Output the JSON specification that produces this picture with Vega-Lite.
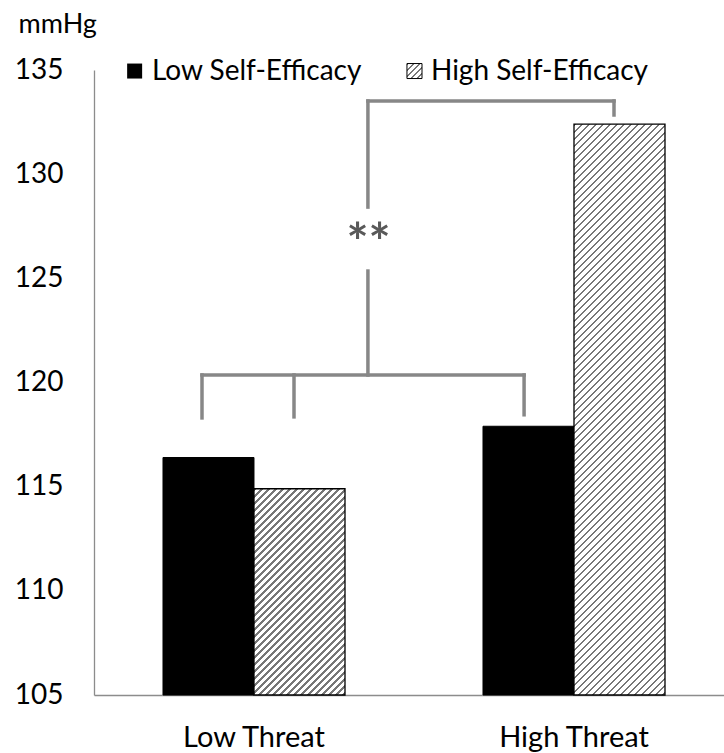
{
"$schema":"https://vega.github.io/schema/vega-lite/v6.json",
"width":630,"height":625,
"autosize":{"type":"none"},
"padding":{"left":94,"top":70,"right":0,"bottom":58},
"background":"white",
"config":{"view":{"stroke":null},"font":"Lato","text":{"font":"Lato"}},
"datasets":{
"bars":[
{"threat":"Low Threat","se":"Low Self-Efficacy","value":116.4},
{"threat":"Low Threat","se":"High Self-Efficacy","value":114.9},
{"threat":"High Threat","se":"Low Self-Efficacy","value":117.9},
{"threat":"High Threat","se":"High Self-Efficacy","value":132.4}
],
"segments":[
{"xa":0.3375,"xb":1.344,"ya":120.36,"yb":120.36},
{"xa":0.3375,"xb":0.3375,"ya":120.36,"yb":118.3},
{"xa":0.625,"xb":0.625,"ya":120.36,"yb":118.35},
{"xa":1.344,"xb":1.344,"ya":120.36,"yb":118.45},
{"xa":0.856,"xb":0.856,"ya":120.36,"yb":125.35},
{"xa":0.856,"xb":0.856,"ya":128.42,"yb":133.51},
{"xa":0.856,"xb":1.625,"ya":133.51,"yb":133.51},
{"xa":1.625,"xb":1.625,"ya":133.51,"yb":132.84}
]
},
"resolve":{"scale":{"x":"independent"},"axis":{"x":"independent","y":"independent"}},
"layer":[
{"layer":[
{"data":{"name":"bars"},"transform":[{"filter":"datum.se === 'Low Self-Efficacy'"}],
"mark":{"type":"bar","fill":"#000","stroke":"#000","strokeWidth":1},
"encoding":{
"x":{"field":"threat","type":"nominal","scale":{"domain":["Low Threat","High Threat"],"paddingInner":0.43125,"paddingOuter":0.2,"align":0.539},
"axis":{"title":null,"labelAngle":0,"labelFontSize":29,"labelColor":"#000","labelPadding":28,"ticks":false,"tickSize":0,"domainColor":"#8c8c8c","domainWidth":1.3}},
"xOffset":{"field":"se","type":"nominal","scale":{"domain":["Low Self-Efficacy","High Self-Efficacy"],"paddingInner":0,"paddingOuter":0}},
"y":{"field":"value","type":"quantitative","scale":{"domain":[105,135],"nice":false,"zero":false},
"axis":{"values":[105,110,115,120,125,130,135],"grid":false,"ticks":false,"tickSize":0,"labelFontSize":28,"labelColor":"#000","labelPadding":31,"labelFlush":false,"labelOverlap":false,"domainColor":"#8c8c8c","domainWidth":1.3,
"title":"mmHg","titleAngle":0,"titleAlign":"left","titleBaseline":"alphabetic","titleX":-76,"titleY":-38,"titleFontSize":27,"titleFontWeight":"normal","titleColor":"#000","titleFont":"Lato"}},
"y2":{"datum":105}
}},
{"data":{"name":"bars"},"transform":[{"filter":"datum.se === 'High Self-Efficacy' && datum.threat === 'Low Threat'"}],
"mark":{"type":"bar","stroke":"#000","strokeWidth":1.3,"fill":{"gradient":"linear","x1":0,"y1":0,"x2":0.62672,"y2":1.42045,"stops":[
{"offset":0,"color":"#777"},{"offset":0.008,"color":"#777"},{"offset":0.008,"color":"#fff"},{"offset":0.02,"color":"#fff"},
{"offset":0.02,"color":"#777"},{"offset":0.028,"color":"#777"},{"offset":0.028,"color":"#fff"},{"offset":0.04,"color":"#fff"},
{"offset":0.04,"color":"#777"},{"offset":0.048,"color":"#777"},{"offset":0.048,"color":"#fff"},{"offset":0.06,"color":"#fff"},
{"offset":0.06,"color":"#777"},{"offset":0.068,"color":"#777"},{"offset":0.068,"color":"#fff"},{"offset":0.08,"color":"#fff"},
{"offset":0.08,"color":"#777"},{"offset":0.088,"color":"#777"},{"offset":0.088,"color":"#fff"},{"offset":0.10,"color":"#fff"},
{"offset":0.10,"color":"#777"},{"offset":0.108,"color":"#777"},{"offset":0.108,"color":"#fff"},{"offset":0.12,"color":"#fff"},
{"offset":0.12,"color":"#777"},{"offset":0.128,"color":"#777"},{"offset":0.128,"color":"#fff"},{"offset":0.14,"color":"#fff"},
{"offset":0.14,"color":"#777"},{"offset":0.148,"color":"#777"},{"offset":0.148,"color":"#fff"},{"offset":0.16,"color":"#fff"},
{"offset":0.16,"color":"#777"},{"offset":0.168,"color":"#777"},{"offset":0.168,"color":"#fff"},{"offset":0.18,"color":"#fff"},
{"offset":0.18,"color":"#777"},{"offset":0.188,"color":"#777"},{"offset":0.188,"color":"#fff"},{"offset":0.20,"color":"#fff"},
{"offset":0.20,"color":"#777"},{"offset":0.208,"color":"#777"},{"offset":0.208,"color":"#fff"},{"offset":0.22,"color":"#fff"},
{"offset":0.22,"color":"#777"},{"offset":0.228,"color":"#777"},{"offset":0.228,"color":"#fff"},{"offset":0.24,"color":"#fff"},
{"offset":0.24,"color":"#777"},{"offset":0.248,"color":"#777"},{"offset":0.248,"color":"#fff"},{"offset":0.26,"color":"#fff"},
{"offset":0.26,"color":"#777"},{"offset":0.268,"color":"#777"},{"offset":0.268,"color":"#fff"},{"offset":0.28,"color":"#fff"},
{"offset":0.28,"color":"#777"},{"offset":0.288,"color":"#777"},{"offset":0.288,"color":"#fff"},{"offset":0.30,"color":"#fff"},
{"offset":0.30,"color":"#777"},{"offset":0.308,"color":"#777"},{"offset":0.308,"color":"#fff"},{"offset":0.32,"color":"#fff"},
{"offset":0.32,"color":"#777"},{"offset":0.328,"color":"#777"},{"offset":0.328,"color":"#fff"},{"offset":0.34,"color":"#fff"},
{"offset":0.34,"color":"#777"},{"offset":0.348,"color":"#777"},{"offset":0.348,"color":"#fff"},{"offset":0.36,"color":"#fff"},
{"offset":0.36,"color":"#777"},{"offset":0.368,"color":"#777"},{"offset":0.368,"color":"#fff"},{"offset":0.38,"color":"#fff"},
{"offset":0.38,"color":"#777"},{"offset":0.388,"color":"#777"},{"offset":0.388,"color":"#fff"},{"offset":0.40,"color":"#fff"},
{"offset":0.40,"color":"#777"},{"offset":0.408,"color":"#777"},{"offset":0.408,"color":"#fff"},{"offset":0.42,"color":"#fff"},
{"offset":0.42,"color":"#777"},{"offset":0.428,"color":"#777"},{"offset":0.428,"color":"#fff"},{"offset":0.44,"color":"#fff"},
{"offset":0.44,"color":"#777"},{"offset":0.448,"color":"#777"},{"offset":0.448,"color":"#fff"},{"offset":0.46,"color":"#fff"},
{"offset":0.46,"color":"#777"},{"offset":0.468,"color":"#777"},{"offset":0.468,"color":"#fff"},{"offset":0.48,"color":"#fff"},
{"offset":0.48,"color":"#777"},{"offset":0.488,"color":"#777"},{"offset":0.488,"color":"#fff"},{"offset":0.50,"color":"#fff"},
{"offset":0.50,"color":"#777"},{"offset":0.508,"color":"#777"},{"offset":0.508,"color":"#fff"},{"offset":0.52,"color":"#fff"},
{"offset":0.52,"color":"#777"},{"offset":0.528,"color":"#777"},{"offset":0.528,"color":"#fff"},{"offset":0.54,"color":"#fff"},
{"offset":0.54,"color":"#777"},{"offset":0.548,"color":"#777"},{"offset":0.548,"color":"#fff"},{"offset":0.56,"color":"#fff"},
{"offset":0.56,"color":"#777"},{"offset":0.568,"color":"#777"},{"offset":0.568,"color":"#fff"},{"offset":0.58,"color":"#fff"},
{"offset":0.58,"color":"#777"},{"offset":0.588,"color":"#777"},{"offset":0.588,"color":"#fff"},{"offset":0.60,"color":"#fff"},
{"offset":0.60,"color":"#777"},{"offset":0.608,"color":"#777"},{"offset":0.608,"color":"#fff"},{"offset":0.62,"color":"#fff"},
{"offset":0.62,"color":"#777"},{"offset":0.628,"color":"#777"},{"offset":0.628,"color":"#fff"},{"offset":0.64,"color":"#fff"},
{"offset":0.64,"color":"#777"},{"offset":0.648,"color":"#777"},{"offset":0.648,"color":"#fff"},{"offset":0.66,"color":"#fff"},
{"offset":0.66,"color":"#777"},{"offset":0.668,"color":"#777"},{"offset":0.668,"color":"#fff"},{"offset":0.68,"color":"#fff"},
{"offset":0.68,"color":"#777"},{"offset":0.688,"color":"#777"},{"offset":0.688,"color":"#fff"},{"offset":0.70,"color":"#fff"},
{"offset":0.70,"color":"#777"},{"offset":0.708,"color":"#777"},{"offset":0.708,"color":"#fff"},{"offset":0.72,"color":"#fff"},
{"offset":0.72,"color":"#777"},{"offset":0.728,"color":"#777"},{"offset":0.728,"color":"#fff"},{"offset":0.74,"color":"#fff"},
{"offset":0.74,"color":"#777"},{"offset":0.748,"color":"#777"},{"offset":0.748,"color":"#fff"},{"offset":0.76,"color":"#fff"},
{"offset":0.76,"color":"#777"},{"offset":0.768,"color":"#777"},{"offset":0.768,"color":"#fff"},{"offset":0.78,"color":"#fff"},
{"offset":0.78,"color":"#777"},{"offset":0.788,"color":"#777"},{"offset":0.788,"color":"#fff"},{"offset":0.80,"color":"#fff"},
{"offset":0.80,"color":"#777"},{"offset":0.808,"color":"#777"},{"offset":0.808,"color":"#fff"},{"offset":0.82,"color":"#fff"},
{"offset":0.82,"color":"#777"},{"offset":0.828,"color":"#777"},{"offset":0.828,"color":"#fff"},{"offset":0.84,"color":"#fff"},
{"offset":0.84,"color":"#777"},{"offset":0.848,"color":"#777"},{"offset":0.848,"color":"#fff"},{"offset":0.86,"color":"#fff"},
{"offset":0.86,"color":"#777"},{"offset":0.868,"color":"#777"},{"offset":0.868,"color":"#fff"},{"offset":0.88,"color":"#fff"}
]}},
"encoding":{
"x":{"field":"threat","type":"nominal"},
"xOffset":{"field":"se","type":"nominal"},
"y":{"field":"value","type":"quantitative"},
"y2":{"datum":105}
}},
{"data":{"name":"bars"},"transform":[{"filter":"datum.se === 'High Self-Efficacy' && datum.threat === 'High Threat'"}],
"mark":{"type":"bar","stroke":"#000","strokeWidth":1.3,"fill":{"gradient":"linear","x1":0,"y1":0,"x2":0.19067,"y2":1.19595,"stops":[
{"offset":0,"color":"#777"},{"offset":0.004,"color":"#777"},{"offset":0.004,"color":"#fff"},{"offset":0.01,"color":"#fff"},
{"offset":0.01,"color":"#777"},{"offset":0.014,"color":"#777"},{"offset":0.014,"color":"#fff"},{"offset":0.02,"color":"#fff"},
{"offset":0.02,"color":"#777"},{"offset":0.024,"color":"#777"},{"offset":0.024,"color":"#fff"},{"offset":0.03,"color":"#fff"},
{"offset":0.03,"color":"#777"},{"offset":0.034,"color":"#777"},{"offset":0.034,"color":"#fff"},{"offset":0.04,"color":"#fff"},
{"offset":0.04,"color":"#777"},{"offset":0.044,"color":"#777"},{"offset":0.044,"color":"#fff"},{"offset":0.05,"color":"#fff"},
{"offset":0.05,"color":"#777"},{"offset":0.054,"color":"#777"},{"offset":0.054,"color":"#fff"},{"offset":0.06,"color":"#fff"},
{"offset":0.06,"color":"#777"},{"offset":0.064,"color":"#777"},{"offset":0.064,"color":"#fff"},{"offset":0.07,"color":"#fff"},
{"offset":0.07,"color":"#777"},{"offset":0.074,"color":"#777"},{"offset":0.074,"color":"#fff"},{"offset":0.08,"color":"#fff"},
{"offset":0.08,"color":"#777"},{"offset":0.084,"color":"#777"},{"offset":0.084,"color":"#fff"},{"offset":0.09,"color":"#fff"},
{"offset":0.09,"color":"#777"},{"offset":0.094,"color":"#777"},{"offset":0.094,"color":"#fff"},{"offset":0.10,"color":"#fff"},
{"offset":0.10,"color":"#777"},{"offset":0.104,"color":"#777"},{"offset":0.104,"color":"#fff"},{"offset":0.11,"color":"#fff"},
{"offset":0.11,"color":"#777"},{"offset":0.114,"color":"#777"},{"offset":0.114,"color":"#fff"},{"offset":0.12,"color":"#fff"},
{"offset":0.12,"color":"#777"},{"offset":0.124,"color":"#777"},{"offset":0.124,"color":"#fff"},{"offset":0.13,"color":"#fff"},
{"offset":0.13,"color":"#777"},{"offset":0.134,"color":"#777"},{"offset":0.134,"color":"#fff"},{"offset":0.14,"color":"#fff"},
{"offset":0.14,"color":"#777"},{"offset":0.144,"color":"#777"},{"offset":0.144,"color":"#fff"},{"offset":0.15,"color":"#fff"},
{"offset":0.15,"color":"#777"},{"offset":0.154,"color":"#777"},{"offset":0.154,"color":"#fff"},{"offset":0.16,"color":"#fff"},
{"offset":0.16,"color":"#777"},{"offset":0.164,"color":"#777"},{"offset":0.164,"color":"#fff"},{"offset":0.17,"color":"#fff"},
{"offset":0.17,"color":"#777"},{"offset":0.174,"color":"#777"},{"offset":0.174,"color":"#fff"},{"offset":0.18,"color":"#fff"},
{"offset":0.18,"color":"#777"},{"offset":0.184,"color":"#777"},{"offset":0.184,"color":"#fff"},{"offset":0.19,"color":"#fff"},
{"offset":0.19,"color":"#777"},{"offset":0.194,"color":"#777"},{"offset":0.194,"color":"#fff"},{"offset":0.20,"color":"#fff"},
{"offset":0.20,"color":"#777"},{"offset":0.204,"color":"#777"},{"offset":0.204,"color":"#fff"},{"offset":0.21,"color":"#fff"},
{"offset":0.21,"color":"#777"},{"offset":0.214,"color":"#777"},{"offset":0.214,"color":"#fff"},{"offset":0.22,"color":"#fff"},
{"offset":0.22,"color":"#777"},{"offset":0.224,"color":"#777"},{"offset":0.224,"color":"#fff"},{"offset":0.23,"color":"#fff"},
{"offset":0.23,"color":"#777"},{"offset":0.234,"color":"#777"},{"offset":0.234,"color":"#fff"},{"offset":0.24,"color":"#fff"},
{"offset":0.24,"color":"#777"},{"offset":0.244,"color":"#777"},{"offset":0.244,"color":"#fff"},{"offset":0.25,"color":"#fff"},
{"offset":0.25,"color":"#777"},{"offset":0.254,"color":"#777"},{"offset":0.254,"color":"#fff"},{"offset":0.26,"color":"#fff"},
{"offset":0.26,"color":"#777"},{"offset":0.264,"color":"#777"},{"offset":0.264,"color":"#fff"},{"offset":0.27,"color":"#fff"},
{"offset":0.27,"color":"#777"},{"offset":0.274,"color":"#777"},{"offset":0.274,"color":"#fff"},{"offset":0.28,"color":"#fff"},
{"offset":0.28,"color":"#777"},{"offset":0.284,"color":"#777"},{"offset":0.284,"color":"#fff"},{"offset":0.29,"color":"#fff"},
{"offset":0.29,"color":"#777"},{"offset":0.294,"color":"#777"},{"offset":0.294,"color":"#fff"},{"offset":0.30,"color":"#fff"},
{"offset":0.30,"color":"#777"},{"offset":0.304,"color":"#777"},{"offset":0.304,"color":"#fff"},{"offset":0.31,"color":"#fff"},
{"offset":0.31,"color":"#777"},{"offset":0.314,"color":"#777"},{"offset":0.314,"color":"#fff"},{"offset":0.32,"color":"#fff"},
{"offset":0.32,"color":"#777"},{"offset":0.324,"color":"#777"},{"offset":0.324,"color":"#fff"},{"offset":0.33,"color":"#fff"},
{"offset":0.33,"color":"#777"},{"offset":0.334,"color":"#777"},{"offset":0.334,"color":"#fff"},{"offset":0.34,"color":"#fff"},
{"offset":0.34,"color":"#777"},{"offset":0.344,"color":"#777"},{"offset":0.344,"color":"#fff"},{"offset":0.35,"color":"#fff"},
{"offset":0.35,"color":"#777"},{"offset":0.354,"color":"#777"},{"offset":0.354,"color":"#fff"},{"offset":0.36,"color":"#fff"},
{"offset":0.36,"color":"#777"},{"offset":0.364,"color":"#777"},{"offset":0.364,"color":"#fff"},{"offset":0.37,"color":"#fff"},
{"offset":0.37,"color":"#777"},{"offset":0.374,"color":"#777"},{"offset":0.374,"color":"#fff"},{"offset":0.38,"color":"#fff"},
{"offset":0.38,"color":"#777"},{"offset":0.384,"color":"#777"},{"offset":0.384,"color":"#fff"},{"offset":0.39,"color":"#fff"},
{"offset":0.39,"color":"#777"},{"offset":0.394,"color":"#777"},{"offset":0.394,"color":"#fff"},{"offset":0.40,"color":"#fff"},
{"offset":0.40,"color":"#777"},{"offset":0.404,"color":"#777"},{"offset":0.404,"color":"#fff"},{"offset":0.41,"color":"#fff"},
{"offset":0.41,"color":"#777"},{"offset":0.414,"color":"#777"},{"offset":0.414,"color":"#fff"},{"offset":0.42,"color":"#fff"},
{"offset":0.42,"color":"#777"},{"offset":0.424,"color":"#777"},{"offset":0.424,"color":"#fff"},{"offset":0.43,"color":"#fff"},
{"offset":0.43,"color":"#777"},{"offset":0.434,"color":"#777"},{"offset":0.434,"color":"#fff"},{"offset":0.44,"color":"#fff"},
{"offset":0.44,"color":"#777"},{"offset":0.444,"color":"#777"},{"offset":0.444,"color":"#fff"},{"offset":0.45,"color":"#fff"},
{"offset":0.45,"color":"#777"},{"offset":0.454,"color":"#777"},{"offset":0.454,"color":"#fff"},{"offset":0.46,"color":"#fff"},
{"offset":0.46,"color":"#777"},{"offset":0.464,"color":"#777"},{"offset":0.464,"color":"#fff"},{"offset":0.47,"color":"#fff"},
{"offset":0.47,"color":"#777"},{"offset":0.474,"color":"#777"},{"offset":0.474,"color":"#fff"},{"offset":0.48,"color":"#fff"},
{"offset":0.48,"color":"#777"},{"offset":0.484,"color":"#777"},{"offset":0.484,"color":"#fff"},{"offset":0.49,"color":"#fff"},
{"offset":0.49,"color":"#777"},{"offset":0.494,"color":"#777"},{"offset":0.494,"color":"#fff"},{"offset":0.50,"color":"#fff"},
{"offset":0.50,"color":"#777"},{"offset":0.504,"color":"#777"},{"offset":0.504,"color":"#fff"},{"offset":0.51,"color":"#fff"},
{"offset":0.51,"color":"#777"},{"offset":0.514,"color":"#777"},{"offset":0.514,"color":"#fff"},{"offset":0.52,"color":"#fff"},
{"offset":0.52,"color":"#777"},{"offset":0.524,"color":"#777"},{"offset":0.524,"color":"#fff"},{"offset":0.53,"color":"#fff"},
{"offset":0.53,"color":"#777"},{"offset":0.534,"color":"#777"},{"offset":0.534,"color":"#fff"},{"offset":0.54,"color":"#fff"},
{"offset":0.54,"color":"#777"},{"offset":0.544,"color":"#777"},{"offset":0.544,"color":"#fff"},{"offset":0.55,"color":"#fff"},
{"offset":0.55,"color":"#777"},{"offset":0.554,"color":"#777"},{"offset":0.554,"color":"#fff"},{"offset":0.56,"color":"#fff"},
{"offset":0.56,"color":"#777"},{"offset":0.564,"color":"#777"},{"offset":0.564,"color":"#fff"},{"offset":0.57,"color":"#fff"},
{"offset":0.57,"color":"#777"},{"offset":0.574,"color":"#777"},{"offset":0.574,"color":"#fff"},{"offset":0.58,"color":"#fff"},
{"offset":0.58,"color":"#777"},{"offset":0.584,"color":"#777"},{"offset":0.584,"color":"#fff"},{"offset":0.59,"color":"#fff"},
{"offset":0.59,"color":"#777"},{"offset":0.594,"color":"#777"},{"offset":0.594,"color":"#fff"},{"offset":0.60,"color":"#fff"},
{"offset":0.60,"color":"#777"},{"offset":0.604,"color":"#777"},{"offset":0.604,"color":"#fff"},{"offset":0.61,"color":"#fff"},
{"offset":0.61,"color":"#777"},{"offset":0.614,"color":"#777"},{"offset":0.614,"color":"#fff"},{"offset":0.62,"color":"#fff"},
{"offset":0.62,"color":"#777"},{"offset":0.624,"color":"#777"},{"offset":0.624,"color":"#fff"},{"offset":0.63,"color":"#fff"},
{"offset":0.63,"color":"#777"},{"offset":0.634,"color":"#777"},{"offset":0.634,"color":"#fff"},{"offset":0.64,"color":"#fff"},
{"offset":0.64,"color":"#777"},{"offset":0.644,"color":"#777"},{"offset":0.644,"color":"#fff"},{"offset":0.65,"color":"#fff"},
{"offset":0.65,"color":"#777"},{"offset":0.654,"color":"#777"},{"offset":0.654,"color":"#fff"},{"offset":0.66,"color":"#fff"},
{"offset":0.66,"color":"#777"},{"offset":0.664,"color":"#777"},{"offset":0.664,"color":"#fff"},{"offset":0.67,"color":"#fff"},
{"offset":0.67,"color":"#777"},{"offset":0.674,"color":"#777"},{"offset":0.674,"color":"#fff"},{"offset":0.68,"color":"#fff"},
{"offset":0.68,"color":"#777"},{"offset":0.684,"color":"#777"},{"offset":0.684,"color":"#fff"},{"offset":0.69,"color":"#fff"},
{"offset":0.69,"color":"#777"},{"offset":0.694,"color":"#777"},{"offset":0.694,"color":"#fff"},{"offset":0.70,"color":"#fff"},
{"offset":0.70,"color":"#777"},{"offset":0.704,"color":"#777"},{"offset":0.704,"color":"#fff"},{"offset":0.71,"color":"#fff"},
{"offset":0.71,"color":"#777"},{"offset":0.714,"color":"#777"},{"offset":0.714,"color":"#fff"},{"offset":0.72,"color":"#fff"},
{"offset":0.72,"color":"#777"},{"offset":0.724,"color":"#777"},{"offset":0.724,"color":"#fff"},{"offset":0.73,"color":"#fff"},
{"offset":0.73,"color":"#777"},{"offset":0.734,"color":"#777"},{"offset":0.734,"color":"#fff"},{"offset":0.74,"color":"#fff"},
{"offset":0.74,"color":"#777"},{"offset":0.744,"color":"#777"},{"offset":0.744,"color":"#fff"},{"offset":0.75,"color":"#fff"},
{"offset":0.75,"color":"#777"},{"offset":0.754,"color":"#777"},{"offset":0.754,"color":"#fff"},{"offset":0.76,"color":"#fff"},
{"offset":0.76,"color":"#777"},{"offset":0.764,"color":"#777"},{"offset":0.764,"color":"#fff"},{"offset":0.77,"color":"#fff"},
{"offset":0.77,"color":"#777"},{"offset":0.774,"color":"#777"},{"offset":0.774,"color":"#fff"},{"offset":0.78,"color":"#fff"},
{"offset":0.78,"color":"#777"},{"offset":0.784,"color":"#777"},{"offset":0.784,"color":"#fff"},{"offset":0.79,"color":"#fff"},
{"offset":0.79,"color":"#777"},{"offset":0.794,"color":"#777"},{"offset":0.794,"color":"#fff"},{"offset":0.80,"color":"#fff"},
{"offset":0.80,"color":"#777"},{"offset":0.804,"color":"#777"},{"offset":0.804,"color":"#fff"},{"offset":0.81,"color":"#fff"},
{"offset":0.81,"color":"#777"},{"offset":0.814,"color":"#777"},{"offset":0.814,"color":"#fff"},{"offset":0.82,"color":"#fff"},
{"offset":0.82,"color":"#777"},{"offset":0.824,"color":"#777"},{"offset":0.824,"color":"#fff"},{"offset":0.83,"color":"#fff"},
{"offset":0.83,"color":"#777"},{"offset":0.834,"color":"#777"},{"offset":0.834,"color":"#fff"},{"offset":0.84,"color":"#fff"},
{"offset":0.84,"color":"#777"},{"offset":0.844,"color":"#777"},{"offset":0.844,"color":"#fff"},{"offset":0.85,"color":"#fff"},
{"offset":0.85,"color":"#777"},{"offset":0.854,"color":"#777"},{"offset":0.854,"color":"#fff"},{"offset":0.86,"color":"#fff"},
{"offset":0.86,"color":"#777"},{"offset":0.864,"color":"#777"},{"offset":0.864,"color":"#fff"},{"offset":0.87,"color":"#fff"},
{"offset":0.87,"color":"#777"},{"offset":0.874,"color":"#777"},{"offset":0.874,"color":"#fff"},{"offset":0.88,"color":"#fff"},
{"offset":0.88,"color":"#777"},{"offset":0.884,"color":"#777"},{"offset":0.884,"color":"#fff"},{"offset":0.89,"color":"#fff"},
{"offset":0.89,"color":"#777"},{"offset":0.894,"color":"#777"},{"offset":0.894,"color":"#fff"},{"offset":0.90,"color":"#fff"},
{"offset":0.90,"color":"#777"},{"offset":0.904,"color":"#777"},{"offset":0.904,"color":"#fff"},{"offset":0.91,"color":"#fff"},
{"offset":0.91,"color":"#777"},{"offset":0.914,"color":"#777"},{"offset":0.914,"color":"#fff"},{"offset":0.92,"color":"#fff"},
{"offset":0.92,"color":"#777"},{"offset":0.924,"color":"#777"},{"offset":0.924,"color":"#fff"},{"offset":0.93,"color":"#fff"},
{"offset":0.93,"color":"#777"},{"offset":0.934,"color":"#777"},{"offset":0.934,"color":"#fff"},{"offset":0.94,"color":"#fff"},
{"offset":0.94,"color":"#777"},{"offset":0.944,"color":"#777"},{"offset":0.944,"color":"#fff"},{"offset":0.95,"color":"#fff"},
{"offset":0.95,"color":"#777"},{"offset":0.954,"color":"#777"},{"offset":0.954,"color":"#fff"},{"offset":0.96,"color":"#fff"}
]}},
"encoding":{
"x":{"field":"threat","type":"nominal"},
"xOffset":{"field":"se","type":"nominal"},
"y":{"field":"value","type":"quantitative"},
"y2":{"datum":105}
}}
]},
{"layer":[
{"data":{"name":"segments"},
"mark":{"type":"rule","stroke":"#878787","strokeWidth":3.5,"strokeCap":"square"},
"encoding":{
"x":{"field":"xa","type":"quantitative","scale":{"domain":[0,1.96875],"nice":false,"zero":false},"axis":null},
"x2":{"field":"xb"},
"y":{"field":"ya","type":"quantitative","axis":null},
"y2":{"field":"yb"}
}},
{"data":{"values":[{"label":"**","xa":0.858,"ya":126.6}]},
"mark":{"type":"text","fontSize":52,"fontWeight":"bold","fill":"#595959","align":"center","baseline":"middle","font":"Lato"},
"encoding":{
"x":{"field":"xa","type":"quantitative","axis":null},
"y":{"field":"ya","type":"quantitative","axis":null},
"text":{"field":"label"}
}},
{"data":{"values":[{"xa":0.127,"ya":134.95}]},
"mark":{"type":"square","size":225,"filled":true,"fill":"#000","opacity":1},
"encoding":{
"x":{"field":"xa","type":"quantitative","axis":null},
"y":{"field":"ya","type":"quantitative","axis":null}
}},
{"data":{"values":[{"xa":0.978,"xb":1.025,"ya":134.59,"yb":135.31}]},
"mark":{"type":"rect","stroke":"#000","strokeWidth":1,"fill":{"gradient":"linear","x1":0,"y1":0,"x2":1,"y2":1,"stops":[
{"offset":0,"color":"#777"},{"offset":0.08,"color":"#777"},{"offset":0.08,"color":"#fff"},{"offset":0.2,"color":"#fff"},
{"offset":0.2,"color":"#777"},{"offset":0.28,"color":"#777"},{"offset":0.28,"color":"#fff"},{"offset":0.4,"color":"#fff"},
{"offset":0.4,"color":"#777"},{"offset":0.48,"color":"#777"},{"offset":0.48,"color":"#fff"},{"offset":0.6,"color":"#fff"},
{"offset":0.6,"color":"#777"},{"offset":0.68,"color":"#777"},{"offset":0.68,"color":"#fff"},{"offset":0.8,"color":"#fff"},
{"offset":0.8,"color":"#777"},{"offset":0.88,"color":"#777"},{"offset":0.88,"color":"#fff"},{"offset":1,"color":"#fff"}
]}},
"encoding":{
"x":{"field":"xa","type":"quantitative","axis":null},
"x2":{"field":"xb"},
"y":{"field":"ya","type":"quantitative","axis":null},
"y2":{"field":"yb"}
}},
{"data":{"values":[{"label":"Low Self-Efficacy","xa":0.181,"ya":134.9},{"label":"High Self-Efficacy","xa":1.053,"ya":134.9}]},
"mark":{"type":"text","fontSize":28,"fill":"#000","align":"left","baseline":"middle","font":"Lato"},
"encoding":{
"x":{"field":"xa","type":"quantitative","axis":null},
"y":{"field":"ya","type":"quantitative","axis":null},
"text":{"field":"label"}
}}
]}
]
}
